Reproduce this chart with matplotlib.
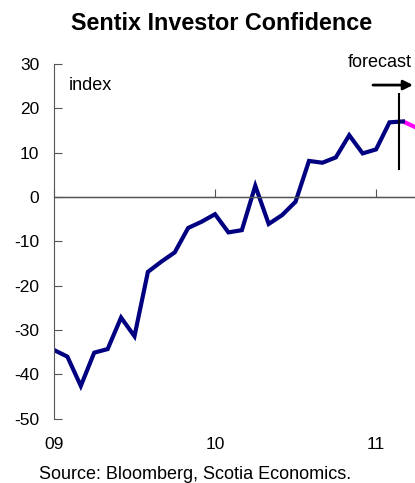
import numpy as np
import matplotlib
matplotlib.use('Agg')
import matplotlib.pyplot as plt

plt.rcParams['font.family'] = ['Liberation Sans', 'DejaVu Sans']

# monthly index, Jan 2009 = 0
sentix = [-34.5, -36.0, -42.6, -35.1, -34.3, -27.2, -31.4, -16.9, -14.6, -12.5,
          -7.0, -5.6, -3.9, -8.0, -7.5, 2.5, -6.1, -4.1, -1.1, 8.1,
          7.7, 8.9, 13.9, 9.8, 10.7, 16.8, 17.0]
forecast = [17.0, 15.6]
year_ticks = [0, 12, 24]
year_labels = ['09', '10', '11']
yticks = [30, 20, 10, 0, -10, -20, -30, -40, -50]

months = np.arange(len(sentix))
fc_months = np.arange(len(sentix) - 1, len(sentix) - 1 + len(forecast))

fig = plt.figure(figsize=(4.15, 4.83), dpi=100)
ax = fig.add_axes([0.130, 0.133, 0.87, 0.735])

ax.plot(fc_months, forecast, color='#FF00FF', lw=3, solid_capstyle='butt')
ax.plot(months, sentix, color='#000080', lw=3, solid_joinstyle='miter')

ax.set_xlim(0, 26.9)
ax.set_ylim(-50, 30)
ax.set_yticks(yticks)
ax.set_yticklabels([str(v) for v in yticks], fontsize=12.5)
ax.tick_params(axis='y', direction='in', length=6, color='#555555', pad=10.5)

for s in ['top', 'right', 'bottom']:
    ax.spines[s].set_visible(False)
ax.spines['left'].set_color('#555555')

# year labels at the bottom, tick marks on the zero line
ax.set_xticks(year_ticks)
ax.set_xticklabels(year_labels, fontsize=12.5)
ax.tick_params(axis='x', length=0, pad=13)
ax.axhline(0, color='#555555', lw=1)
sec = ax.secondary_xaxis(0.625)
sec.set_xticks(year_ticks)
sec.set_xticklabels([])
sec.tick_params(direction='out', length=6, color='#555555')
sec.spines['bottom'].set_visible(False)

# forecast marker
ax.vlines(25.7, 6.0, 23.3, color='black', lw=1.5)
ax.annotate('', xy=(26.75, 25.2), xytext=(23.77, 25.2),
            arrowprops=dict(arrowstyle='-|>', color='black', lw=2, mutation_scale=14,
                            shrinkA=0, shrinkB=0),
            annotation_clip=False)
ax.text(24.3, 29.3, 'forecast', fontsize=13, ha='center', va='baseline', clip_on=False)
ax.text(1.12, 24.0, 'index', fontsize=13, ha='left', va='baseline')

fig.text(0.535, 0.9385, 'Sentix Investor Confidence', fontsize=16.8, fontweight='bold',
         ha='center', va='baseline')
fig.text(0.471, 0.009, 'Source: Bloomberg, Scotia Economics.', fontsize=13,
         ha='center', va='baseline')

fig.savefig('out.png', dpi=100)
